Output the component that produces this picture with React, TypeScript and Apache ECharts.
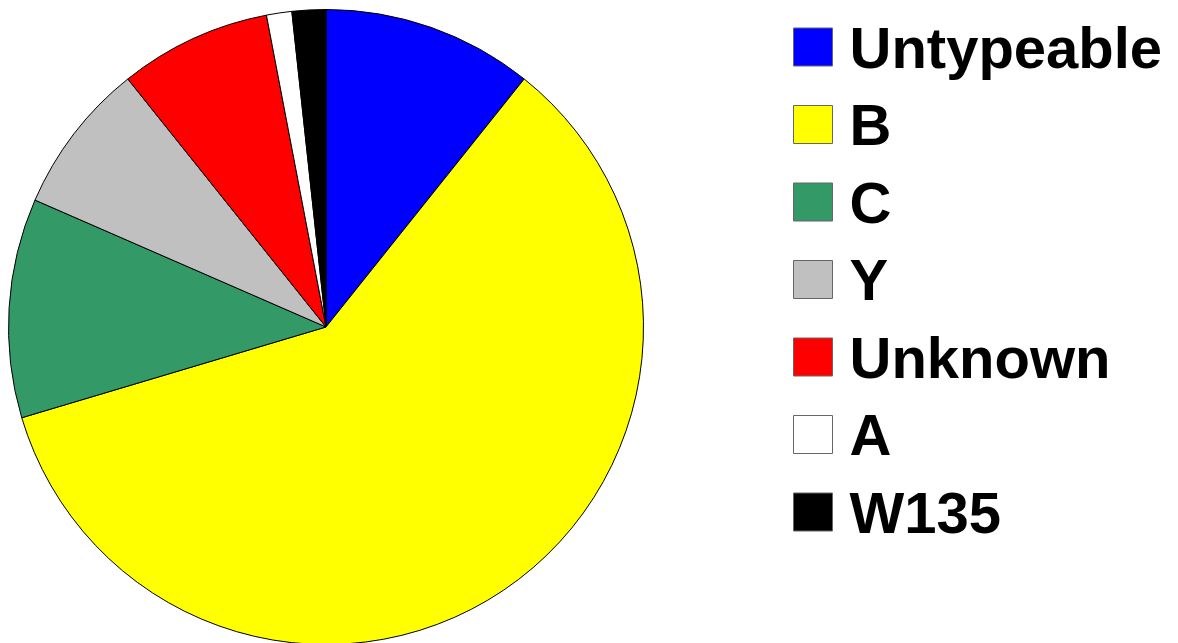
import React, { useEffect, useRef } from "react";
import * as echarts from "echarts";

const categories = ["Untypeable", "B", "C", "Y", "Unknown", "A", "W135"];
const counts = [25, 139, 26, 18, 18, 3, 4];
const colors = ["#0000FF", "#FFFF00", "#339966", "#C0C0C0", "#FF0000", "#FFFFFF", "#000000"];

export default function App() {
  const ref = useRef<HTMLDivElement>(null);
  useEffect(() => {
    if (!ref.current) return;
    const chart = echarts.init(ref.current, null, { renderer: "svg" });
    chart.setOption({
      animation: false,
      backgroundColor: "#ffffff",
      legend: {
        orient: "vertical",
        left: 793,
        top: 18,
        padding: 0,
        itemWidth: 39,
        itemHeight: 38,
        itemGap: 19.5,
        icon: "rect",
        selectedMode: false,
        itemStyle: { borderColor: "#666666", borderWidth: 1 },
        textStyle: {
          fontFamily: "'Liberation Sans', Arial, sans-serif",
          fontWeight: "bold",
          fontSize: 58,
          lineHeight: 58,
          color: "#000000",
          padding: [0, 0, 0, 12],
        },
        data: categories,
      },
      series: [
        {
          type: "pie",
          center: [326, 327],
          radius: 317.5,
          startAngle: 90,
          clockwise: true,
          label: { show: false },
          labelLine: { show: false },
          emphasis: { disabled: true },
          itemStyle: { borderColor: "#000000", borderWidth: 1 },
          data: categories.map((name, i) => ({
            name,
            value: counts[i],
            itemStyle: { color: colors[i] },
          })),
        },
      ],
    });
    return () => chart.dispose();
  }, []);
  return (
    <div
      ref={ref}
      style={{ position: "fixed", left: 0, top: 0, width: 1178, height: 643 }}
    />
  );
}
